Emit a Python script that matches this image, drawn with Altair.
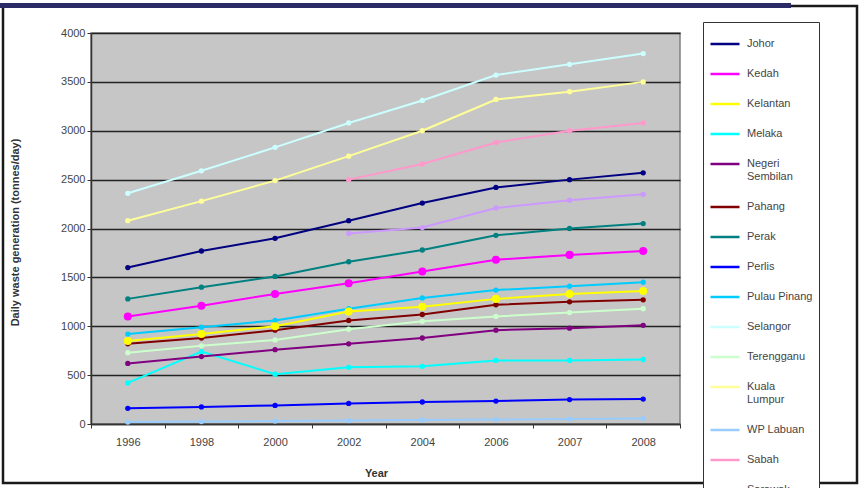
import altair as alt
import pandas as pd

# Survey years (plotted as evenly spaced categories)
years = ["1996", "1998", "2000", "2002", "2004", "2006", "2007", "2008"]

# Daily waste generation by state, tonnes/day
johor = [1600, 1770, 1900, 2080, 2260, 2420, 2500, 2570]
kedah = [1100, 1210, 1330, 1440, 1560, 1680, 1730, 1770]
kelantan = [850, 920, 1000, 1150, 1200, 1280, 1330, 1360]
melaka = [420, 740, 510, 580, 590, 650, 650, 660]
negeri_sembilan = [620, 690, 760, 820, 880, 960, 980, 1010]
pahang = [820, 880, 960, 1060, 1120, 1220, 1250, 1270]
perak = [1280, 1400, 1510, 1660, 1780, 1930, 2000, 2050]
perlis = [160, 175, 190, 210, 225, 235, 250, 255]
pulau_pinang = [920, 990, 1060, 1180, 1290, 1370, 1410, 1450]
selangor = [2360, 2590, 2830, 3080, 3310, 3570, 3680, 3790]
terengganu = [730, 800, 860, 970, 1050, 1100, 1140, 1180]
kuala_lumpur = [2080, 2280, 2490, 2740, 3000, 3320, 3400, 3500]
wp_labuan = [20, 25, 30, 35, 40, 45, 50, 55]
sabah = [None, None, None, 2500, 2660, 2880, 3000, 3080]
sarawak = [None, None, None, 1950, 2010, 2210, 2290, 2350]

states = ["Johor", "Kedah", "Kelantan", "Melaka", "Negeri Sembilan", "Pahang",
          "Perak", "Perlis", "Pulau Pinang", "Selangor", "Terengganu",
          "Kuala Lumpur", "WP Labuan", "Sabah", "Sarawak"]
series = [johor, kedah, kelantan, melaka, negeri_sembilan, pahang, perak,
          perlis, pulau_pinang, selangor, terengganu, kuala_lumpur, wp_labuan,
          sabah, sarawak]
colors = ["#000080", "#FF00FF", "#FFFF00", "#00FFFF", "#800080", "#800000",
          "#008080", "#0000FF", "#00CCFF", "#CCFFFF", "#CCFFCC", "#FFFF99",
          "#99CCFF", "#FF99CC", "#CC99FF"]
big_markers = ["Kedah", "Kelantan"]

rows = []
for name, vals in zip(states, series):
    for yr, v in zip(years, vals):
        if v is not None:
            rows.append({"Year": yr, "State": name, "Marker": name, "Waste": v})
df = pd.DataFrame(rows)

W, H = 589, 391
FONT = "Liberation Sans"

legend = alt.Legend(
    title=None, orient="none", legendX=612, legendY=-11,
    symbolType="stroke", symbolSize=841, symbolStrokeWidth=2.5,
    labelExpr="datum.label == 'Negeri Sembilan' || datum.label == 'Kuala Lumpur' ? split(datum.label, ' ') : datum.label",
    labelFontSize=11, labelColor="#444", labelFont=FONT, labelLimit=75,
    rowPadding=9, padding=6, strokeColor="#333", fillColor="white",
    labelOffset=6,
)

x_enc = alt.X("Year:O", sort=years, title="Year",
              scale=alt.Scale(paddingInner=0, paddingOuter=0),
              axis=alt.Axis(labelAngle=0, tickBand="extent", labelPadding=8,
                            titleY=43, titleX=285, titleFontWeight="bold"))
y_enc = alt.Y("Waste:Q", title="Daily waste generation (tonnes/day)",
              scale=alt.Scale(domain=[0, 4000], nice=False),
              axis=alt.Axis(values=list(range(0, 4001, 500)), grid=True,
                            format="d",
                            titleX=-76, titleY=199, titleAngle=-90,
                            titleFontWeight="bold", titleAlign="center",
                            titleBaseline="middle"))

base = alt.Chart(df)

lines = base.mark_line(strokeWidth=2, clip=True).encode(
    x=x_enc, y=y_enc,
    stroke=alt.Stroke("State:N", sort=states,
                      scale=alt.Scale(domain=states, range=colors), legend=legend),
    detail="State:N")

# Data markers: small dots for most states, larger ones for Kedah and Kelantan
marker_fill = alt.Fill("Marker:N", scale=alt.Scale(domain=states[::-1], range=colors[::-1]),
                       legend=None)
points_small = base.transform_filter(
    alt.FieldOneOfPredicate(field="Marker", oneOf=[s for s in states if s not in big_markers])
).mark_point(filled=True, opacity=1, size=28).encode(
    x=alt.X("Year:O", sort=years), y="Waste:Q", fill=marker_fill)
points_big = base.transform_filter(
    alt.FieldOneOfPredicate(field="Marker", oneOf=big_markers)
).mark_point(filled=True, opacity=1, size=65).encode(
    x=alt.X("Year:O", sort=years), y="Waste:Q", fill=marker_fill)

# Outer frame around the whole figure
frame = alt.Chart(pd.DataFrame({"k": [0]})).mark_rect(
    fill=None, stroke="#1a1a1a", strokeWidth=2.5, clip=False
).encode(x=alt.value(-88), x2=alt.value(766), y=alt.value(-27), y2=alt.value(450))
top_band = alt.Chart(pd.DataFrame({"k": [0]})).mark_rect(
    fill="#2a2a66", clip=False
).encode(x=alt.value(-91), x2=alt.value(700), y=alt.value(-30), y2=alt.value(-25))

chart = alt.layer(frame, top_band, lines, points_small, points_big).properties(
    width=W, height=H,
    autosize=alt.AutoSizeParams(type="none"),
    padding={"left": 91, "top": 33, "right": 183, "bottom": 64},
    background="white",
).configure_view(
    fill="#C6C6C6", stroke="#808080", strokeWidth=1.5
).configure_axis(
    labelFont=FONT, titleFont=FONT, labelFontSize=11, titleFontSize=11,
    labelColor="#444", titleColor="#333", domainColor="#333",
    tickColor="#333", tickSize=4, gridColor="#222", gridWidth=1.6,
    domainWidth=1.5,
).configure_axisX(grid=False)

chart.save("out.html", embed_options={"renderer": "svg", "actions": False})
